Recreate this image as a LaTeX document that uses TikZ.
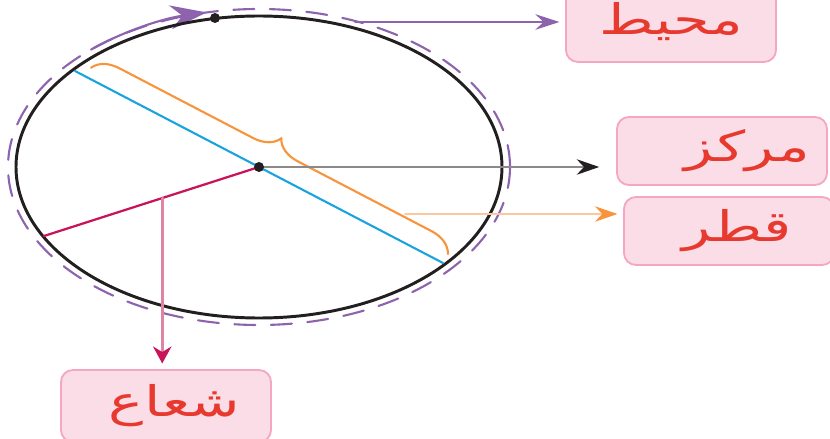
\documentclass[tikz,border=0pt]{standalone}
\usepackage{fontspec}
\newfontfamily\arabicfont[Script=Arabic, FakeStretch=1.4]{DejaVu Sans}
\TeXXeTstate=1
\usepackage{tikz}
\usetikzlibrary{positioning}
\usetikzlibrary{calc}
\usetikzlibrary{arrows.meta}
\usetikzlibrary{decorations.pathreplacing}
\definecolor{ringblack}{HTML}{231F20}
\definecolor{ringpurple}{HTML}{8E63AE}
\definecolor{diamblue}{HTML}{1BA3DD}
\definecolor{radred}{HTML}{C8145A}
\definecolor{radpink}{HTML}{E084A6}
\definecolor{braceorange}{HTML}{F7943C}
\definecolor{paleorange}{HTML}{F9C8A0}
\definecolor{linegray}{HTML}{8A8A8A}
\definecolor{boxfill}{HTML}{FBDDE8}
\definecolor{boxedge}{HTML}{F4A6C4}
\definecolor{wordred}{HTML}{E8392E}

\begin{document}
\begin{tikzpicture}[x=0.025cm, y=-0.025cm, line cap=round,
  wordbox/.style={draw=boxedge, fill=boxfill, line width=1.3pt, rounded corners=0.3cm, minimum width=5.25cm, minimum height=1.7cm, text=wordred, font=\arabicfont\fontsize{30}{32}\selectfont},
  pointer/.style={line width=1.3pt, shorten >=4pt}]
\useasboundingbox (0,0) rectangle (830,439);
\clip (0,0) rectangle (830,439);
\coordinate (c) at (259,167);
\coordinate (top) at (215,18);
\coordinate (d1) at (75,71);
\coordinate (d2) at (443,263);
\coordinate (r) at (44,236);
\coordinate (ps) at (355,22);
\coordinate (bq) at (405,214);
\coordinate (rm) at ($(r)!0.55!(c)$);
\node (muhit) at (671,22) [wordbox, minimum height=2cm] {\beginR محيط\endR};
\node (markaz) at (722,151) [wordbox] {\hspace{1.2em}\beginR مركز\endR};
\node (qutr) at (729,231) [wordbox] {\hspace{0.4em}\beginR قطر\endR};
\node (shuaa) at (166,406) [wordbox, minimum height=1.8cm] {\hspace{0.4em}\beginR شعاع\endR};
\draw[ringpurple, line width=1.5pt, dash pattern=on 15pt off 11pt] (c) ellipse [x radius=251, y radius=158];
\draw[ringpurple, line width=1.5pt, -{Stealth[length=26pt, width=17pt]}] (c) ++(-132:251 and 158) arc [start angle=-132, end angle=-102, x radius=251, y radius=158];
\draw[ringblack, line width=2.1pt] (c) ellipse [x radius=243, y radius=151];
\draw[diamblue, line width=1.5pt] (d1) -- (d2);
\draw[radred, line width=1.6pt] (c) -- (r);
\draw[braceorange, line width=1.5pt, decorate, decoration={brace, amplitude=18pt}] ($(d1)!0.03!(d2)+(5,-9)$) -- ($(d2)+(5,-9)$);
\draw[linegray, pointer, shorten >=12pt, -{Stealth[length=16pt, width=11pt, ringblack]}] (c) -- (c -| markaz.west);
\draw[paleorange, pointer, -{Stealth[length=16pt, width=11pt, braceorange]}] (bq) -- (bq -| qutr.west);
\draw[ringpurple, pointer, -{Stealth[length=17pt, width=11pt]}] (ps) -- (muhit.west);
\draw[radpink, pointer, line width=2pt, -{Stealth[length=12pt, width=13pt, radred]}] (rm) -- (rm |- shuaa.north);
\fill[ringblack] (c) circle [radius=5];
\fill[ringblack] (top) circle [radius=5];
\end{tikzpicture}
\end{document}
